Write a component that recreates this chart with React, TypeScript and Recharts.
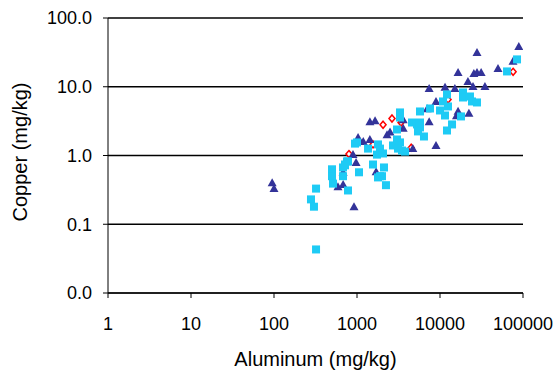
import React from "react";
import {
  ScatterChart,
  Scatter,
  XAxis,
  YAxis,
  CartesianGrid,
} from "recharts";

// [aluminum, copper] in mg/kg
const triangleData: [number, number][] = [
  [95, 0.4], [100, 0.33], [590, 0.35], [680, 0.38], [680, 0.57], [920, 0.18],
  [975, 0.79], [895, 1.03], [1030, 1.83], [1190, 1.6], [1430, 1.71], [1430, 3.1],
  [1650, 3.2], [1700, 0.58], [2300, 2.0], [2500, 2.2], [3600, 3.3], [3600, 2.5],
  [4700, 1.26], [7000, 4.8], [7400, 9.4], [7400, 3.1], [8950, 6.1], [8950, 1.4],
  [11500, 9.8], [15100, 9.4], [16500, 16.1], [16500, 4.4], [15800, 3.8],
  [21700, 11.9], [22300, 4.1], [25000, 10.1], [25600, 15.6], [27900, 16.1],
  [31300, 16.1], [27900, 31.6], [34800, 10.1], [50000, 18.5], [75800, 23.4],
  [89000, 38.6],
];

const squareData: [number, number][] = [
  [321, 0.043], [321, 0.33], [279, 0.23], [303, 0.18], [500, 0.63], [500, 0.5],
  [514, 0.39], [678, 0.5], [717, 0.72], [779, 0.82], [779, 0.31], [1057, 0.57],
  [946, 1.49], [1358, 1.26], [1559, 0.74], [2114, 0.67], [1790, 0.48], [2000, 0.5],
  [2234, 0.37], [1790, 1.45], [1892, 1.26], [1741, 1.03], [2056, 1.07], [2715, 1.4],
  [3034, 1.71], [3297, 1.55], [3787, 1.14], [3485, 1.18], [3120, 1.26], [3034, 2.39],
  [3297, 4.23], [3297, 3.57], [4600, 3.02], [5280, 2.83], [5740, 2.56], [5430, 2.24],
  [6410, 1.89], [5740, 4.37], [7580, 4.83], [12140, 7.72], [10870, 6.11],
  [12480, 5.17], [10000, 4.52], [11490, 3.82], [18930, 8.26], [18930, 6.98],
  [22970, 7.22], [24300, 6.11], [27900, 5.91], [17900, 3.7], [13960, 2.83],
  [12140, 2.31], [64200, 16.7], [84700, 25.0], [1000, 1.55], [678, 0.67],
  [758, 0.82], [1892, 0.5], [5740, 3.02], [717, 0.74],
];

const diamondData: [number, number][] = [
  [800, 1.05], [1560, 1.45], [2060, 2.8], [2640, 3.45], [3390, 3.02],
  [4500, 1.3], [12500, 6.5], [76000, 16.5],
];

const xTicks = [1, 10, 100, 1000, 10000, 100000];
const yTicks = [0.01, 0.1, 1, 10, 100];

const toPoints = (rows: [number, number][]) =>
  rows.map(([al, cu]) => ({ al, cu }));

const FONT = "'Liberation Sans', Arial, sans-serif";

const Triangle = (props: any) => {
  const { cx, cy } = props;
  if (cx == null || cy == null) return null;
  return (
    <polygon
      points={`${cx},${cy - 4.5} ${cx + 4.5},${cy + 3.5} ${cx - 4.5},${cy + 3.5}`}
      fill="#333399"
    />
  );
};

const Square = (props: any) => {
  const { cx, cy } = props;
  if (cx == null || cy == null) return null;
  return <rect x={cx - 4} y={cy - 4} width={8} height={8} fill="#1ECBF5" />;
};

const Diamond = (props: any) => {
  const { cx, cy } = props;
  if (cx == null || cy == null) return null;
  return (
    <polygon
      points={`${cx},${cy - 3.5} ${cx + 3},${cy} ${cx},${cy + 3.5} ${cx - 3},${cy}`}
      fill="#fff"
      stroke="#FF0000"
      strokeWidth={1.5}
    />
  );
};

export default function App() {
  return (
    <div style={{ position: "absolute", left: 0, top: 0, background: "#fff" }}>
      <ScatterChart
        width={560}
        height={377}
        margin={{ top: 18, right: 37, bottom: 11, left: 0 }}
        style={{ fontFamily: FONT }}
      >
        <CartesianGrid vertical={false} stroke="#000" strokeWidth={1.3} />
        <XAxis
          type="number"
          dataKey="al"
          scale="log"
          domain={[1, 100000]}
          ticks={xTicks}
          allowDataOverflow
          height={73}
          stroke="#000"
          tickSize={5}
          tickMargin={19}
          tick={{ fill: "#000", fontSize: 18, fontFamily: FONT }}
          tickFormatter={(v: number) => String(v)}
          label={{
            value: "Aluminum (mg/kg)",
            position: "insideBottom",
            offset: 0,
            fill: "#000",
            fontSize: 20,
            fontFamily: FONT,
          }}
        />
        <YAxis
          type="number"
          dataKey="cu"
          scale="log"
          domain={[0.01, 100]}
          ticks={yTicks}
          allowDataOverflow
          width={108}
          stroke="#000"
          tickSize={5}
          tickMargin={11}
          tick={{ fill: "#000", fontSize: 18, fontFamily: FONT }}
          tickFormatter={(v: number) => v.toFixed(1)}
          label={() => (
            <text
              x={20}
              y={152}
              transform="rotate(-90 20 152)"
              textAnchor="middle"
              dominantBaseline="central"
              fill="#000"
              fontSize={20}
              fontFamily={FONT}
            >
              Copper (mg/kg)
            </text>
          )}
        />
        <Scatter
          data={toPoints(diamondData)}
          shape={Diamond}
          isAnimationActive={false}
        />
        <Scatter
          data={toPoints(triangleData)}
          shape={Triangle}
          isAnimationActive={false}
        />
        <Scatter
          data={toPoints(squareData)}
          shape={Square}
          isAnimationActive={false}
        />
      </ScatterChart>
    </div>
  );
}
